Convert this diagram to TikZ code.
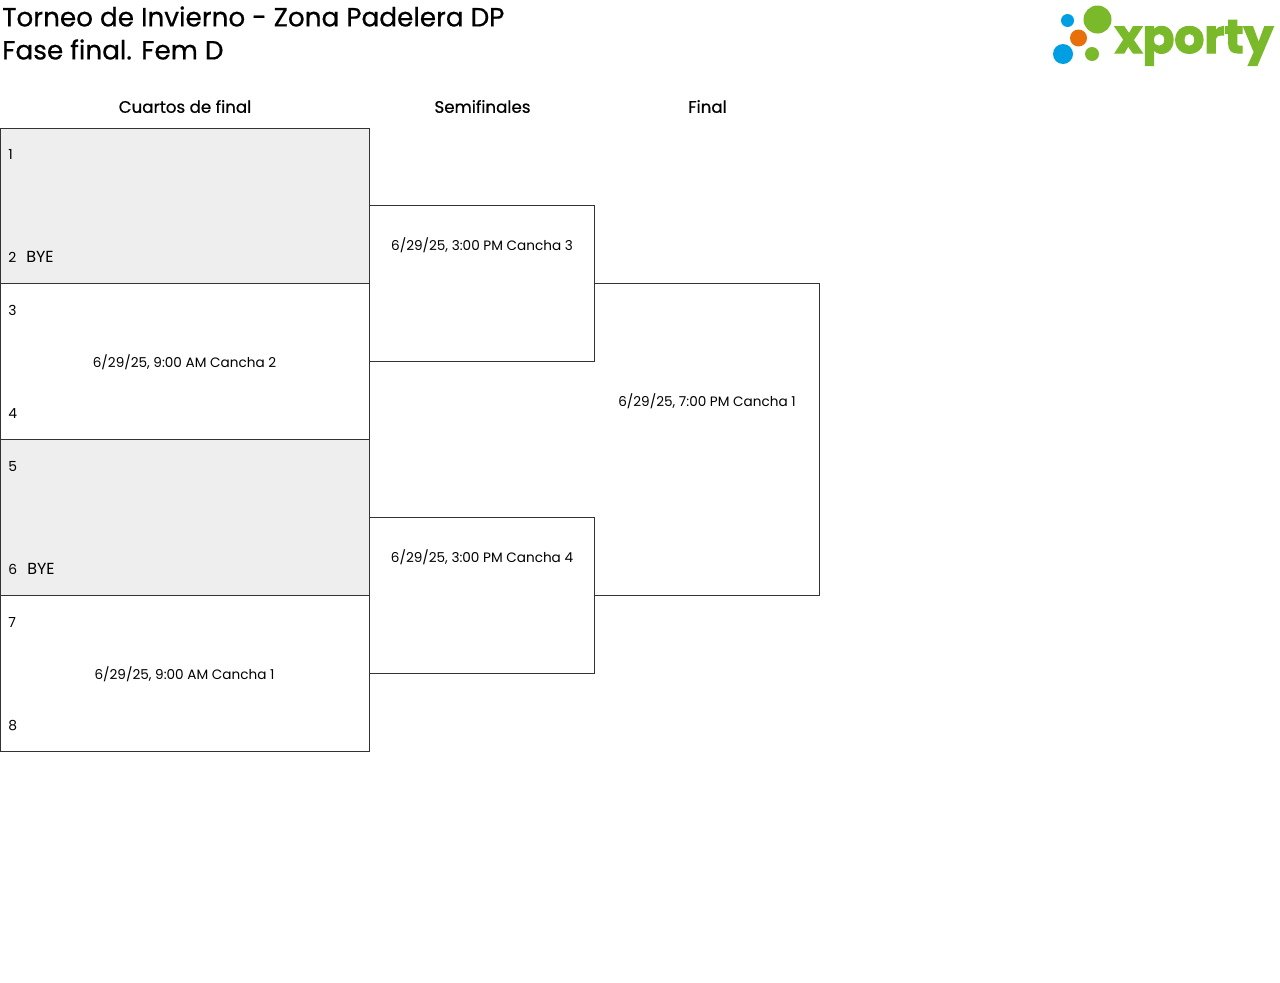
\documentclass[tikz,border=0pt]{standalone}
\usepackage{fontspec}
\setmainfont{Poppins}
\newfontfamily\medfont{Poppins}[FakeBold=0.6]
\newfontfamily\logofont{Poppins Bold}[FakeBold=2.5]
\usepackage{tikz}
\usetikzlibrary{positioning}
\definecolor{byegray}{HTML}{EEEEEE}
\definecolor{xgreen}{HTML}{7AB929}
\definecolor{xblue}{HTML}{009FE3}
\definecolor{xorange}{HTML}{E8700A}
\definecolor{boxline}{HTML}{333333}
\tikzset{
  matchbox/.style={draw=boxline,line width=0.6pt,anchor=north west,inner sep=0pt,outer sep=0pt},
  openbox/.style={anchor=north west,inner sep=0pt,outer sep=0pt},
  bracket/.style={draw=boxline,line width=0.6pt},
  title/.style={anchor=west,inner sep=0pt,font=\medfont\fontsize{19.7}{20}\selectfont},
  round/.style={inner sep=0pt,font=\medfont\fontsize{12.5}{14}\selectfont},
  info/.style={inner sep=0pt,font=\fontsize{10.2}{12}\selectfont},
  seed/.style={anchor=west,inner sep=0pt,font=\fontsize{10.4}{12}\selectfont},
  byelabel/.style={anchor=west,inner sep=0pt,font=\fontsize{12}{12}\selectfont},
}
\begin{document}
\begin{tikzpicture}[x=0.75pt,y=-0.75pt]
            \useasboundingbox (0,0) rectangle (1280,982);
            \node[title] (titleone) at (2,16.5) {Torneo de Invierno - Zona Padelera DP};
            \node[title] (titletwo) at (2,49.5) {Fase final. Fem D};

            \node[round] (roundq) at (185,106.5) {Cuartos de final};
            \node[round] (rounds) at (482.5,106.5) {Semifinales};
            \node[round] (roundf) at (707.5,106.5) {Final};

            % cuartos
            \node[matchbox,fill=byegray,minimum width=276.75pt,minimum height=116.25pt] (qa) at (0.5,128.5) {};
            \node[matchbox,minimum width=276.75pt,minimum height=117pt] (qb) at (0.5,283.5) {};
            \node[matchbox,fill=byegray,minimum width=276.75pt,minimum height=117pt] (qc) at (0.5,439.5) {};
            \node[matchbox,minimum width=276.75pt,minimum height=117pt] (qd) at (0.5,595.5) {};
            % semifinales
            \node[openbox,minimum width=168.75pt,minimum height=117pt] (sa) at (369.5,205.5) {};
            \node[openbox,minimum width=168.75pt,minimum height=117pt] (sb) at (369.5,517.5) {};
            % final
            \node[openbox,minimum width=168.75pt,minimum height=234pt] (fa) at (594.5,283.5) {};
            \draw[bracket] (sa.north west) -- (sa.north east) -- (sa.south east) -- (sa.south west);
            \draw[bracket] (sb.north west) -- (sb.north east) -- (sb.south east) -- (sb.south west);
            \draw[bracket] (fa.north west) -- (fa.north east) -- (fa.south east) -- (fa.south west);

            \node[seed] (one) at (8,154) {1};
            \node[seed] (two) at (8,257) {2};
            \node[byelabel] (byeone) at (26,257) {BYE};
            \node[seed] (three) at (8,310) {3};
            \node[seed] (four) at (8,413.5) {4};
            \node[seed] (five) at (8,466) {5};
            \node[seed] (six) at (8,569) {6};
            \node[byelabel] (byetwo) at (27,569) {BYE};
            \node[seed] (seven) at (8,622) {7};
            \node[seed] (eight) at (8,725.5) {8};

            \node[info] (infoqb) at (184.5,362) {6/29/25, 9:00 AM Cancha 2};
            \node[info] (infoqd) at (184.5,674) {6/29/25, 9:00 AM Cancha 1};
            \node[info] (infosa) at (482,245) {6/29/25, 3:00 PM Cancha 3};
            \node[info] (infosb) at (482,557) {6/29/25, 3:00 PM Cancha 4};
            \node[info] (infofa) at (707,401) {6/29/25, 7:00 PM Cancha 1};

            % logo
            \fill[xgreen] (1097.5,19.5) circle (14);
            \fill[xgreen] (1092,54) circle (7);
            \fill[xblue] (1067.5,20.5) circle (6.5);
            \fill[xblue] (1063,54) circle (10);
            \fill[xorange] (1078.5,38) circle (8.5);
            \node[anchor=base west,inner sep=0pt,text=xgreen,font=\logofont\fontsize{35.3}{36}\selectfont] (logo) at (1114.5,53) {xporty};
\end{tikzpicture}
\end{document}
